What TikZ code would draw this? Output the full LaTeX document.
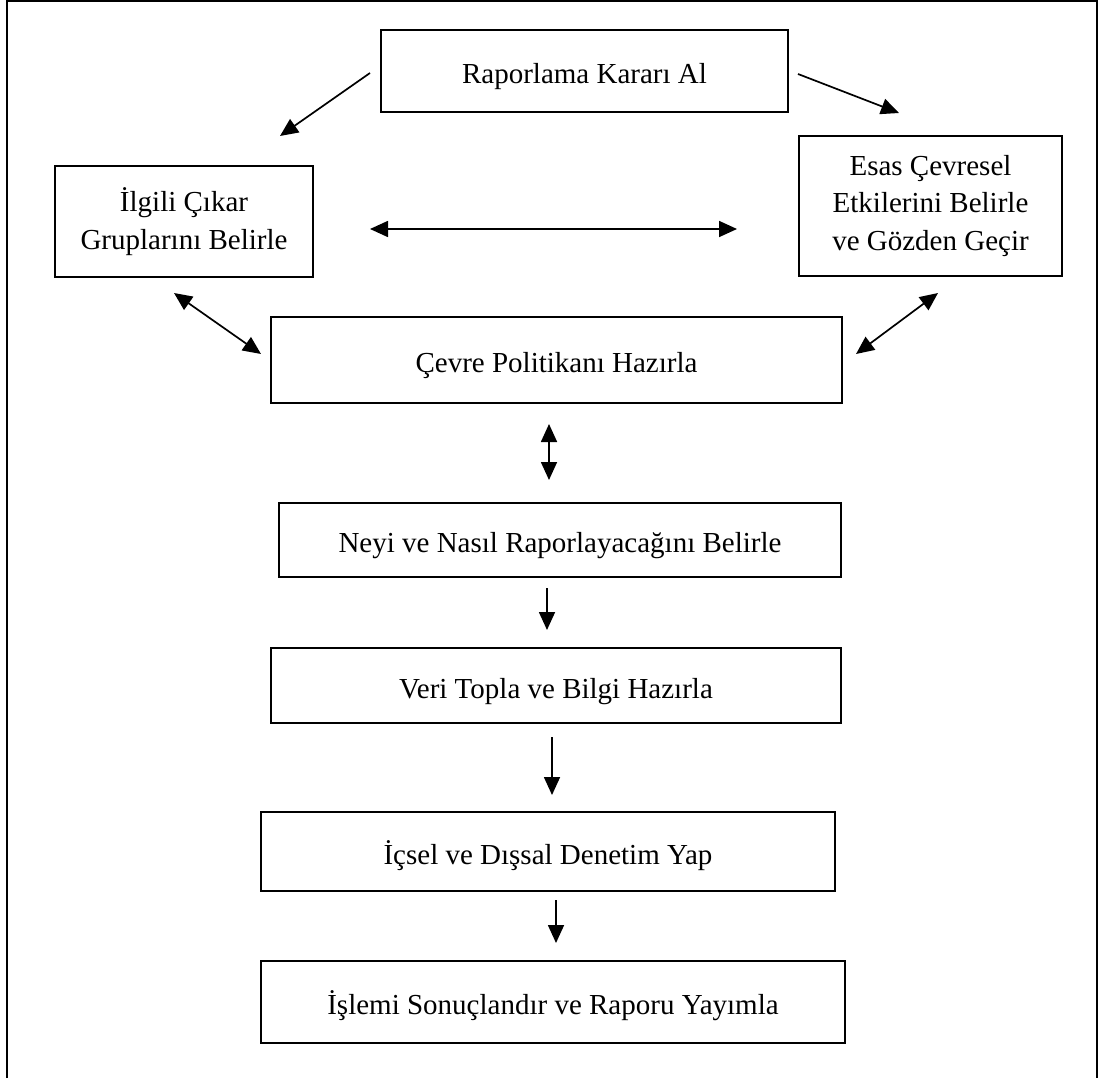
\documentclass[tikz,border=0pt]{standalone}
\usepackage{fontspec}
\setmainfont{Liberation Serif}
\usetikzlibrary{arrows.meta}

\tikzset{
  stagebox/.style={draw, line width=1.3pt, inner sep=0pt, align=center,
    font=\fontsize{29}{37.5}\selectfont},
  oneline/.style={stagebox, text height=25pt, text depth=0pt},
  flow/.style={line width=1.7pt, -{Triangle[length=18pt,width=16pt]}},
  twoway/.style={line width=1.7pt, {Triangle[length=18pt,width=16pt]}-{Triangle[length=18pt,width=16pt]}},
}

\begin{document}
\begin{tikzpicture}[x=1pt, y=-1pt]
\useasboundingbox (0,0) rectangle (1099,1078);

% open frame: left, top and right sides
\draw[line width=2pt] (7,1078) -- (7,1) -- (1097,1) -- (1097,1078);

% process stages
\node[oneline, minimum width=407pt, minimum height=82pt] (karar) at (584.5,71) {Raporlama Kararı Al};
\node[stagebox, minimum width=258pt, minimum height=111pt] (cikar) at (184,221.5) {İlgili Çıkar\\Gruplarını Belirle};
\node[stagebox, minimum width=263pt, minimum height=140pt] (etki) at (930.5,206) {Esas Çevresel\\Etkilerini Belirle\\ve Gözden Geçir};
\node[oneline, minimum width=571pt, minimum height=86pt] (politika) at (556.5,360) {Çevre Politikanı Hazırla};
\node[oneline, minimum width=562pt, minimum height=74pt] (neyi) at (560,540) {Neyi ve Nasıl Raporlayacağını Belirle};
\node[oneline, minimum width=570pt, minimum height=75pt] (veri) at (556,685.5) {Veri Topla ve Bilgi Hazırla};
\node[oneline, minimum width=574pt, minimum height=79pt] (denetim) at (548,851.5) {İçsel ve Dışsal Denetim Yap};
\node[oneline, minimum width=584pt, minimum height=82pt] (yayim) at (553,1002) {İşlemi Sonuçlandır ve Raporu Yayımla};

% free-standing arrow ends in the gaps between the stages
\coordinate (k1) at (370,73);   \coordinate (c1) at (280,136);
\coordinate (k2) at (798,74);   \coordinate (e1) at (899,113);
\coordinate (c2) at (370,229);  \coordinate (e2) at (737,229);
\coordinate (c3) at (174,293);  \coordinate (p1) at (261,354);
\coordinate (p2) at (856,354);  \coordinate (e3) at (938,293);
\coordinate (p3) at (549,424);  \coordinate (n1) at (549,480);
\coordinate (n2) at (547,588);  \coordinate (v1) at (547,630);
\coordinate (v2) at (552,737);  \coordinate (d1) at (552,795);
\coordinate (d2) at (556,900);  \coordinate (y1) at (556,943);

% connectors
\draw[flow] (k1) -- (c1);
\draw[flow] (k2) -- (e1);
\draw[twoway] (c2) -- (e2);
\draw[twoway] (c3) -- (p1);
\draw[twoway] (p2) -- (e3);
\draw[twoway] (p3) -- (n1);
\draw[flow] (n2) -- (v1);
\draw[flow] (v2) -- (d1);
\draw[flow] (d2) -- (y1);
\end{tikzpicture}
\end{document}
